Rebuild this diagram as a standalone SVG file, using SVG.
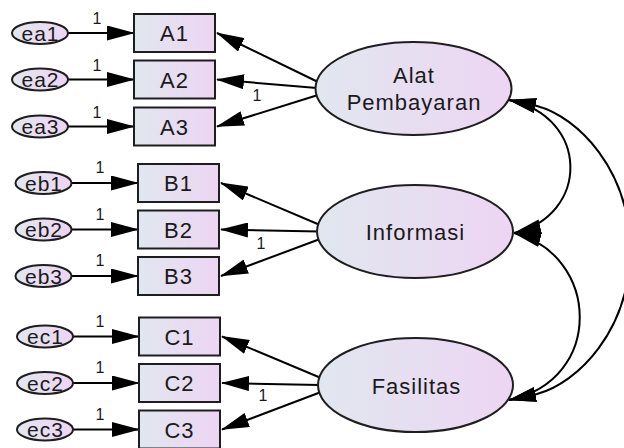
<svg xmlns="http://www.w3.org/2000/svg" width="624" height="448" viewBox="0 0 624 448">
  <defs>
    <linearGradient id="nodeFill" x1="0" y1="0" x2="1" y2="0">
      <stop offset="0" stop-color="#e1e7ef"/>
      <stop offset="1" stop-color="#edd5f3"/>
    </linearGradient>
    <marker id="ah" viewBox="0 0 28 15" refX="27" refY="7.5" markerWidth="28" markerHeight="15" markerUnits="userSpaceOnUse" orient="auto-start-reverse">
      <path d="M0,0 L28,7.5 L0,15 Z" fill="#000"/>
    </marker>
    <style>
      .node rect, .node ellipse { fill: url(#nodeFill); stroke: #1e1e1e; stroke-width: 2; }
      .lbl { font-family: "Liberation Sans", Arial, sans-serif; fill: #1a1a1a; text-anchor: middle; }
      .lat { font-size: 22px; letter-spacing: 1px; }
      .obs { font-size: 22px; letter-spacing: 1px; }
      .err { font-size: 21px; letter-spacing: 1px; }
      .one { font-size: 16px; }
      .edge { fill: none; stroke: #000; stroke-width: 2; marker-end: url(#ah); }
      .cov { fill: none; stroke: #000; stroke-width: 2; marker-start: url(#ah); marker-end: url(#ah); }
    </style>
  </defs>

  <rect x="0" y="0" width="624" height="448" fill="#fff"/>

  <!-- paths: errors to indicators, factors to indicators, factor covariances -->
  <g id="connectors">
    <path class="edge" d="M68,33 L134,33"/>
    <path class="edge" d="M68,79.5 L134,79.5"/>
    <path class="edge" d="M68,126.5 L134,126.5"/>
    <path class="edge" d="M71.5,183 L138,183"/>
    <path class="edge" d="M71.5,229.5 L138,229.5"/>
    <path class="edge" d="M71.5,276 L138,276"/>
    <path class="edge" d="M73,336.5 L139,336.5"/>
    <path class="edge" d="M73,383 L139,383"/>
    <path class="edge" d="M73,429.5 L139,429.5"/>

    <path class="edge" d="M318,82 L217,33"/>
    <path class="edge" d="M317,88 L217,79.5"/>
    <path class="edge" d="M318,95 L217,126.5"/>
    <path class="edge" d="M320,225 L221,183"/>
    <path class="edge" d="M319,231.5 L221,229.5"/>
    <path class="edge" d="M320,239 L221,276"/>
    <path class="edge" d="M321,378 L222,336.5"/>
    <path class="edge" d="M320,385 L222,383"/>
    <path class="edge" d="M321,392 L222,429.5"/>

    <path class="cov" d="M509,100 C590,117 590,215 514,233"/>
    <path class="cov" d="M509,100 L537,106 C578,117 630,170 630,250 C630,330 578,383 537,394 L509,400"/>
    <path class="cov" d="M514,233 C600,255 605,380 509,400"/>

    <text class="lbl one" x="97" y="24">1</text>
    <text class="lbl one" x="97" y="70.5">1</text>
    <text class="lbl one" x="97" y="117.5">1</text>
    <text class="lbl one" x="100" y="173">1</text>
    <text class="lbl one" x="100" y="219.5">1</text>
    <text class="lbl one" x="100" y="266">1</text>
    <text class="lbl one" x="100" y="326.5">1</text>
    <text class="lbl one" x="100" y="373">1</text>
    <text class="lbl one" x="100" y="419.5">1</text>
    <text class="lbl one" x="257" y="101">1</text>
    <text class="lbl one" x="261" y="249">1</text>
    <text class="lbl one" x="263" y="401">1</text>
  </g>

  <!-- error terms -->
  <g id="ea1" class="node"><ellipse cx="40" cy="33" rx="28" ry="11"/><text class="lbl err" x="40.5" y="40.5">ea1</text></g>
  <g id="ea2" class="node"><ellipse cx="40" cy="79.5" rx="28" ry="11"/><text class="lbl err" x="40.5" y="87">ea2</text></g>
  <g id="ea3" class="node"><ellipse cx="40" cy="126.5" rx="28" ry="11"/><text class="lbl err" x="40.5" y="134">ea3</text></g>
  <g id="eb1" class="node"><ellipse cx="43.5" cy="183" rx="28" ry="11"/><text class="lbl err" x="44" y="190.5">eb1</text></g>
  <g id="eb2" class="node"><ellipse cx="43.5" cy="229.5" rx="28" ry="11"/><text class="lbl err" x="44" y="237">eb2</text></g>
  <g id="eb3" class="node"><ellipse cx="43.5" cy="276" rx="28" ry="11"/><text class="lbl err" x="44" y="283.5">eb3</text></g>
  <g id="ec1" class="node"><ellipse cx="45" cy="336.5" rx="28" ry="11"/><text class="lbl err" x="45.5" y="344">ec1</text></g>
  <g id="ec2" class="node"><ellipse cx="45" cy="383" rx="28" ry="11"/><text class="lbl err" x="45.5" y="390.5">ec2</text></g>
  <g id="ec3" class="node"><ellipse cx="45" cy="429.5" rx="28" ry="11"/><text class="lbl err" x="45.5" y="437">ec3</text></g>

  <!-- observed indicators -->
  <g id="A1" class="node"><rect x="134" y="14" width="81" height="38"/><text class="lbl obs" x="174.5" y="41">A1</text></g>
  <g id="A2" class="node"><rect x="134" y="60.5" width="81" height="38"/><text class="lbl obs" x="174.5" y="87.5">A2</text></g>
  <g id="A3" class="node"><rect x="134" y="107.5" width="81" height="38"/><text class="lbl obs" x="174.5" y="134.5">A3</text></g>
  <g id="B1" class="node"><rect x="138" y="164" width="81" height="38"/><text class="lbl obs" x="178.5" y="191">B1</text></g>
  <g id="B2" class="node"><rect x="138" y="210.5" width="81" height="38"/><text class="lbl obs" x="178.5" y="237.5">B2</text></g>
  <g id="B3" class="node"><rect x="138" y="257" width="81" height="38"/><text class="lbl obs" x="178.5" y="284">B3</text></g>
  <g id="C1" class="node"><rect x="139" y="317.5" width="81" height="38"/><text class="lbl obs" x="179.5" y="344.5">C1</text></g>
  <g id="C2" class="node"><rect x="139" y="364" width="81" height="38"/><text class="lbl obs" x="179.5" y="391">C2</text></g>
  <g id="C3" class="node"><rect x="139" y="410.5" width="81" height="38"/><text class="lbl obs" x="179.5" y="437.5">C3</text></g>

  <!-- latent factors -->
  <g id="AlatPembayaran" class="node">
    <ellipse cx="413.5" cy="88.5" rx="98" ry="46.5"/>
    <text class="lbl lat" x="414" y="82.5">Alat</text>
    <text class="lbl lat" x="414" y="109.5">Pembayaran</text>
  </g>
  <g id="Informasi" class="node">
    <ellipse cx="415" cy="231.5" rx="98" ry="46.5"/>
    <text class="lbl lat" x="415.5" y="240">Informasi</text>
  </g>
  <g id="Fasilitas" class="node">
    <ellipse cx="415.5" cy="385" rx="97.5" ry="47"/>
    <text class="lbl lat" x="416.5" y="393.5">Fasilitas</text>
  </g>
</svg>
